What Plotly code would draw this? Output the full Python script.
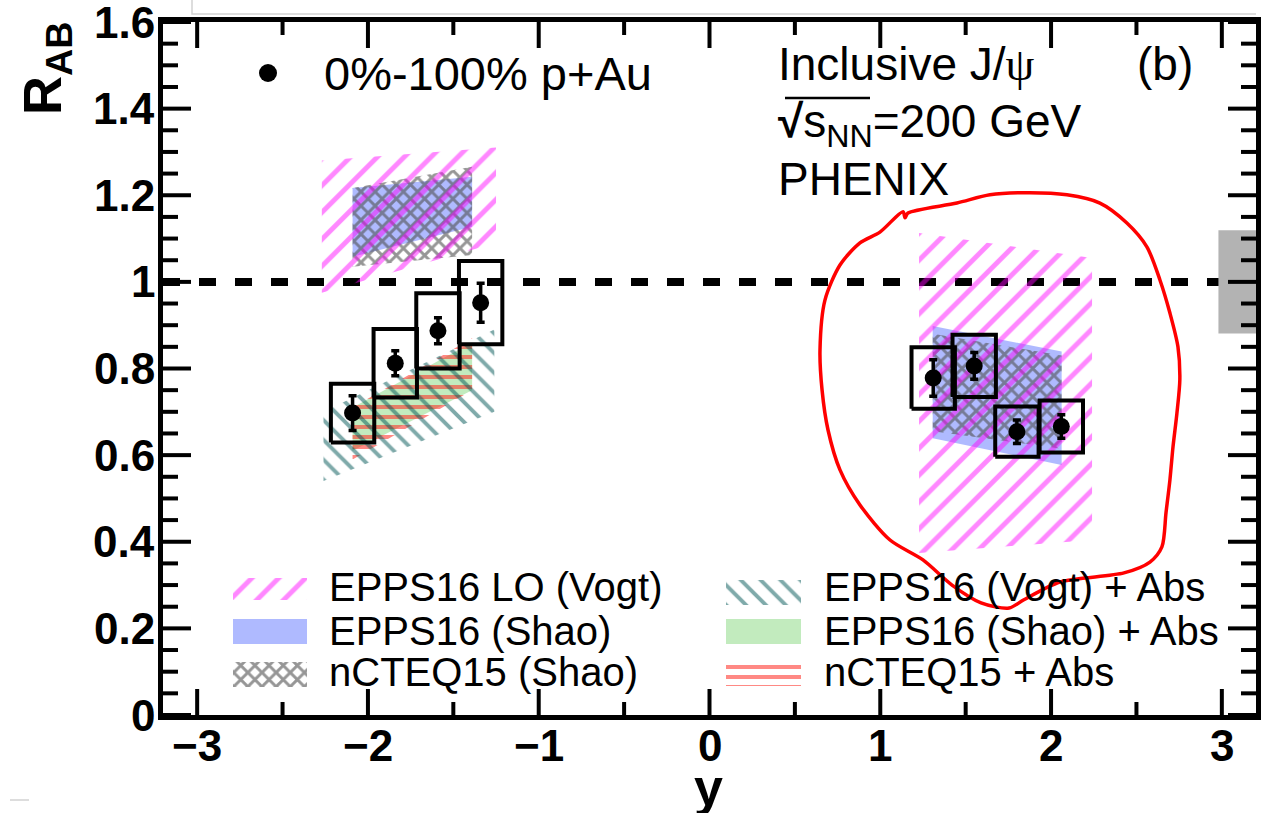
import plotly.graph_objects as go

# ---------------------------------------------------------------- data
# PHENIX inclusive J/psi R_pAu vs rapidity, 0%-100% p+Au at 200 GeV
y_bwd = [-2.09, -1.84, -1.59, -1.34]
raa_bwd = [0.697, 0.812, 0.887, 0.952]
stat_bwd = [0.040, 0.029, 0.030, 0.045]
sys_bwd = [0.068, 0.079, 0.087, 0.096]

y_fwd = [1.31, 1.55, 1.80, 2.06]
raa_fwd = [0.778, 0.806, 0.654, 0.666]
stat_fwd = [0.042, 0.031, 0.027, 0.027]
sys_fwd = [0.071, 0.072, 0.058, 0.060]

global_sys = 0.119

# theory bands: rapidity edges, upper and lower R_AB at those edges
vogt_lo_bwd_y = [-2.27, -1.25]
vogt_lo_bwd_up = [1.28, 1.31]
vogt_lo_bwd_lo = [0.975, 1.09]
vogt_lo_fwd_y = [1.227, 2.24]
vogt_lo_fwd_up = [1.113, 1.055]
vogt_lo_fwd_lo = [0.374, 0.404]

shao_epps_bwd_y = [-2.09, -1.39]
shao_epps_bwd_up = [1.217, 1.243]
shao_epps_bwd_lo = [1.058, 1.127]
shao_epps_fwd_y = [1.307, 2.062]
shao_epps_fwd_up = [0.898, 0.839]
shao_epps_fwd_lo = [0.639, 0.577]

shao_ncteq_bwd_y = [-2.09, -1.39]
shao_ncteq_bwd_up = [1.217, 1.266]
shao_ncteq_bwd_lo = [1.035, 1.062]
shao_ncteq_fwd_y = [1.307, 2.062]
shao_ncteq_fwd_up = [0.880, 0.830]
shao_ncteq_fwd_lo = [0.655, 0.615]

vogt_abs_bwd_y = [-2.26, -1.26]
vogt_abs_bwd_up = [0.70, 0.89]
vogt_abs_bwd_lo = [0.54, 0.70]

shao_epps_abs_bwd_y = [-2.09, -1.39]
shao_epps_abs_bwd_up = [0.71, 0.86]
shao_epps_abs_bwd_lo = [0.61, 0.75]

ncteq_abs_bwd_y = [-2.09, -1.39]
ncteq_abs_bwd_up = [0.71, 0.87]
ncteq_abs_bwd_lo = [0.59, 0.75]

# hand-drawn red loop around the forward-rapidity points (y, R_AB)
loop_y = [1.133, 1.145, 1.162, 1.449, 1.642, 1.876, 2.093, 2.286, 2.444, 2.561,
          2.637, 2.696, 2.743, 2.754, 2.737, 2.714, 2.696, 2.673, 2.649, 2.579,
          2.427, 2.052, 1.841, 1.754, 1.590, 1.420, 1.250, 1.057, 0.881, 0.764,
          0.694, 0.659, 0.647, 0.676, 0.764, 0.881, 0.998, 1.133]
loop_r = [1.162, 1.148, 1.159, 1.182, 1.201, 1.206, 1.201, 1.182, 1.136, 1.081,
          1.005, 0.928, 0.850, 0.774, 0.697, 0.619, 0.543, 0.467, 0.388, 0.353,
          0.328, 0.307, 0.266, 0.247, 0.259, 0.300, 0.358, 0.404, 0.485, 0.566,
          0.658, 0.751, 0.843, 0.958, 1.039, 1.090, 1.115, 1.162]

x_tickvals = [-3, -2, -1, 0, 1, 2, 3]
x_ticktext = ["\u22123", "\u22122", "\u22121", "0", "1", "2", "3"]
x_minorvals = [-2.5, -1.5, -0.5, 0.5, 1.5, 2.5]
y_tickvals = [0, 0.2, 0.4, 0.6, 0.8, 1.0, 1.2, 1.4, 1.6]
y_ticktext = ["0", "0.2", "0.4", "0.6", "0.8", "1", "1.2", "1.4", "1.6"]
y_minorvals = [round(0.05 * i, 2) for i in range(33) if i % 4]

legend_left = ["EPPS16 LO (Vogt)", "EPPS16 (Shao)", "nCTEQ15 (Shao)"]
legend_right = ["EPPS16 (Vogt) + Abs", "EPPS16 (Shao) + Abs", "nCTEQ15 + Abs"]

# ---------------------------------------------------------------- styles
FONT = "Liberation Sans, Arial, Helvetica, sans-serif"
W, H = 1272, 813
PL, PR, PT, PB = 163, 1256, 22, 715   # plot-area edges in pixels
X_RANGE = [-3.2, 3.2]
Y_RANGE = [0, 1.6]
BOX_HW = 0.127


def px2x(px):
    return X_RANGE[0] + (px - PL) / (PR - PL) * (X_RANGE[1] - X_RANGE[0])


def px2y(py):
    return Y_RANGE[0] + (PB - py) / (PB - PT) * (Y_RANGE[1] - Y_RANGE[0])


TRANSP = "rgba(0,0,0,0)"
STY_VOGT_LO = dict(fillcolor=TRANSP, fillpattern=dict(shape="/", fgcolor="#ff00ff", fgopacity=0.47,
                                                     bgcolor=TRANSP, size=19, solidity=0.26))
STY_SHAO = dict(fillcolor="rgba(110,130,255,0.55)")
STY_NCTEQ = dict(fillcolor=TRANSP, fillpattern=dict(shape="x", fgcolor="#505050", fgopacity=0.6,
                                                   bgcolor=TRANSP, size=10, solidity=0.5))
STY_VOGT_ABS = dict(fillcolor=TRANSP, fillpattern=dict(shape="\\", fgcolor="#005555", fgopacity=0.5,
                                                      bgcolor=TRANSP, size=14, solidity=0.28))
STY_SHAO_ABS = dict(fillcolor="rgba(120,210,110,0.45)")
STY_NCTEQ_ABS = dict(fillcolor=TRANSP, fillpattern=dict(shape="-", fgcolor="#ff281e", fgopacity=0.55,
                                                       bgcolor=TRANSP, size=10, solidity=0.4))

fig = go.Figure()


def add_band(xs, up, lo, style):
    fig.add_trace(go.Scatter(
        x=list(xs) + list(xs)[::-1], y=list(up) + list(lo)[::-1],
        mode="lines", fill="toself", line=dict(width=0, color=TRANSP),
        hoverinfo="skip", showlegend=False, **style))


# bands, back to front
add_band(shao_epps_bwd_y, shao_epps_bwd_up, shao_epps_bwd_lo, STY_SHAO)
add_band(shao_epps_fwd_y, shao_epps_fwd_up, shao_epps_fwd_lo, STY_SHAO)
add_band(shao_ncteq_bwd_y, shao_ncteq_bwd_up, shao_ncteq_bwd_lo, STY_NCTEQ)
add_band(shao_ncteq_fwd_y, shao_ncteq_fwd_up, shao_ncteq_fwd_lo, STY_NCTEQ)
add_band(vogt_lo_bwd_y, vogt_lo_bwd_up, vogt_lo_bwd_lo, STY_VOGT_LO)
add_band(vogt_lo_fwd_y, vogt_lo_fwd_up, vogt_lo_fwd_lo, STY_VOGT_LO)
add_band(shao_epps_abs_bwd_y, shao_epps_abs_bwd_up, shao_epps_abs_bwd_lo, STY_SHAO_ABS)
add_band(ncteq_abs_bwd_y, ncteq_abs_bwd_up, ncteq_abs_bwd_lo, STY_NCTEQ_ABS)
add_band(vogt_abs_bwd_y, vogt_abs_bwd_up, vogt_abs_bwd_lo, STY_VOGT_ABS)

# systematic boxes
ys = y_bwd + y_fwd
rs = raa_bwd + raa_fwd
bx, by = [], []
for yc, r, s in zip(ys, rs, sys_bwd + sys_fwd):
    bx += [yc - BOX_HW, yc + BOX_HW, yc + BOX_HW, yc - BOX_HW, yc - BOX_HW, None]
    by += [r - s, r - s, r + s, r + s, r - s, None]
fig.add_trace(go.Scatter(x=bx, y=by, mode="lines", line=dict(color="black", width=4),
                         hoverinfo="skip", showlegend=False))

# data points with statistical errors
fig.add_trace(go.Scatter(
    x=ys, y=rs, mode="markers",
    marker=dict(symbol="circle", size=17, color="black"),
    error_y=dict(type="data", array=stat_bwd + stat_fwd, color="black", thickness=3.5, width=4),
    showlegend=False))

# red loop
fig.add_trace(go.Scatter(x=loop_y, y=loop_r, mode="lines",
                         line=dict(color="#ff0000", width=3.5, shape="spline", smoothing=0.8),
                         hoverinfo="skip", showlegend=False))

# ---------------------------------------------------------------- legend
sw_left = [px2x(233), px2x(307)]
sw_right = [px2x(726), px2x(801)]
rows_sw = [(578, 600), (619, 644), (662, 687)]
rows_sw_r = [(580, 605), (619, 644), (661, 686)]
for (y0, y1), sty in zip(rows_sw, [STY_VOGT_LO, STY_SHAO, STY_NCTEQ]):
    add_band(sw_left, [px2y(y0)] * 2, [px2y(y1)] * 2, sty)
for (y0, y1), sty in zip(rows_sw_r, [STY_VOGT_ABS, STY_SHAO_ABS, STY_NCTEQ_ABS]):
    add_band(sw_right, [px2y(y0)] * 2, [px2y(y1)] * 2, sty)

# marker of the dataset label
fig.add_trace(go.Scatter(x=[px2x(268)], y=[px2y(73)], mode="markers",
                         marker=dict(size=18, color="black"), hoverinfo="skip", showlegend=False))

annotations = []
row_y = [587, 631, 672]
for col_x, labels in [(327, legend_left), (822, legend_right)]:
    for txt, yy in zip(labels, row_y):
        annotations.append(dict(x=px2x(col_x), y=px2y(yy), xref="x", yref="y", text=txt,
                                showarrow=False, xanchor="left", yanchor="middle",
                                font=dict(family=FONT, size=40, color="black")))

big = dict(family=FONT, size=46, color="black")
for x, y, txt, fnt in [
    (322, 73, "0%-100% p+Au", dict(family=FONT, size=47, color="black")),
    (776, 64, "Inclusive J/<span style=\"font-family:Liberation Serif\">ψ</span>", big),
    (1135, 64, "(b)", big),
    (776, 124, "<b>√</b>s<sub>NN</sub>=200 GeV", big),
    (776, 179, "PHENIX", big),
]:
    annotations.append(dict(x=px2x(x), y=px2y(y), xref="x", yref="y", text=txt, showarrow=False,
                            xanchor="left", yanchor="middle", font=fnt))

# tick labels
tickfont = dict(family=FONT, size=44, color="black", weight="bold")
for v, t in zip(x_tickvals, x_ticktext):
    annotations.append(dict(x=v, y=(PB - 745) / (PB - PT), xref="x", yref="paper", text=t,
                            showarrow=False, xanchor="center", yanchor="middle", font=tickfont))
for v, t in zip(y_tickvals, y_ticktext):
    annotations.append(dict(x=(157 - PL) / (PR - PL), y=v, xref="paper", yref="y", text=t,
                            showarrow=False, xanchor="right", yanchor="middle", font=tickfont))

# axis titles
annotations.append(dict(x=(46 - PL) / (PR - PL), y=(PB - 68) / (PB - PT), xref="paper", yref="paper",
                        text="<b>R<sub>AB</sub></b>", textangle=-90, showarrow=False,
                        xanchor="center", yanchor="middle",
                        font=dict(family=FONT, size=54, color="black")))
annotations.append(dict(x=(708 - PL) / (PR - PL), y=(PB - 787) / (PB - PT), xref="paper", yref="paper",
                        text="<b>y</b>", showarrow=False, xanchor="center", yanchor="middle",
                        font=dict(family=FONT, size=52, color="black")))

shapes = [
    # R_AB = 1 reference line
    dict(type="line", xref="x", yref="y", x0=X_RANGE[0], x1=X_RANGE[1], y0=1, y1=1,
         line=dict(color="black", width=8, dash="17px,19px"), layer="below"),
    # global normalisation uncertainty
    dict(type="rect", xref="x", yref="y", x0=2.98, x1=X_RANGE[1], y0=1 - global_sys, y1=1 + global_sys,
         fillcolor="#b3b3b3", line=dict(width=0), layer="below"),
    # radical bar over s_NN
    dict(type="line", xref="x", yref="y", x0=px2x(785), x1=px2x(870), y0=px2y(98), y1=px2y(98),
         line=dict(color="black", width=2.5)),
    # thin page-frame remnants
    dict(type="path", xref="paper", yref="paper",
         path=f"M {(192 - PL) / (PR - PL)},{(PB - 0) / (PB - PT)} L {(192 - PL) / (PR - PL)},{(PB - 14) / (PB - PT)} "
              f"L 1,{(PB - 14) / (PB - PT)}",
         line=dict(color="#d2d2d2", width=1.5)),
    dict(type="line", xref="paper", yref="paper",
         x0=(10 - PL) / (PR - PL), x1=(29 - PL) / (PR - PL),
         y0=(PB - 800) / (PB - PT), y1=(PB - 800) / (PB - PT),
         line=dict(color="#d2d2d2", width=1.5)),
]

# inward tick marks on all four sides (pixel lengths, placed on the axis scales)
TICK = dict(color="black", width=4)
for vals, length in [(x_tickvals, 26), (x_minorvals, 13)]:
    for v in vals:
        for anchor, sign in [(0, 1), (1, -1)]:
            shapes.append(dict(type="line", xref="x", yref="paper", ysizemode="pixel", yanchor=anchor,
                               x0=v, x1=v, y0=0, y1=sign * length, line=TICK, layer="above"))
for vals, length in [(y_tickvals, 28), (y_minorvals, 15)]:
    for v in vals:
        for anchor, sign in [(0, 1), (1, -1)]:
            shapes.append(dict(type="line", yref="y", xref="paper", xsizemode="pixel", xanchor=anchor,
                               y0=v, y1=v, x0=0, x1=sign * length, line=TICK, layer="above"))

frame = dict(showline=True, linewidth=5, linecolor="black", mirror=True, ticks="",
             showticklabels=False, showgrid=False, zeroline=False)

fig.update_layout(
    width=W, height=H,
    margin=dict(l=PL, r=W - PR, t=PT, b=H - PB),
    paper_bgcolor="white", plot_bgcolor="white",
    xaxis=dict(range=X_RANGE, **frame),
    yaxis=dict(range=Y_RANGE, **frame),
    annotations=annotations,
    shapes=shapes,
    showlegend=False,
)

fig.write_html("out.html")
